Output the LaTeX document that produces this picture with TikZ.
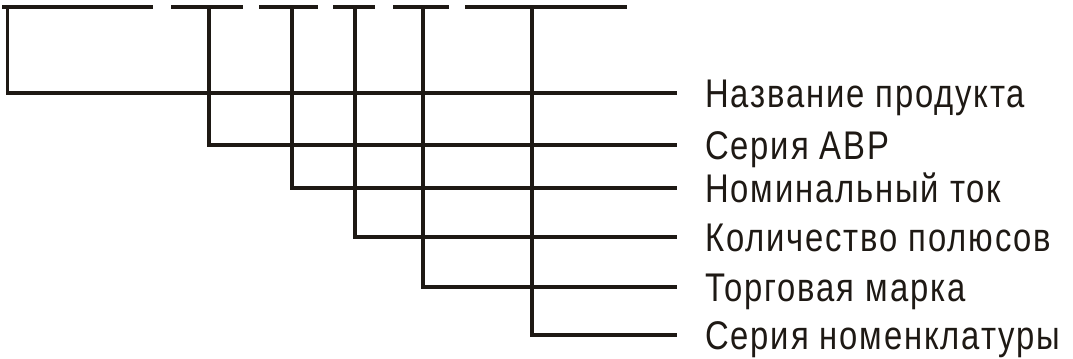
\documentclass[tikz,border=0pt]{standalone}
\usepackage{fontspec}
\setmainfont[LetterSpace=4.6,FakeStretch=0.82]{Liberation Sans}
\definecolor{ink}{RGB}{30,25,20}
\begin{document}
\begin{tikzpicture}[x=0.75pt,y=-0.75pt,
  wire/.style={draw=ink,line width=2.6pt},
  lbl/.style={anchor=west,inner xsep=21pt,inner ysep=0pt,text height=21.5pt,text depth=0pt,
    font=\fontsize{30}{34}\selectfont,text=ink}]
\useasboundingbox (0,0) rectangle (1073,358);
% top segments
\foreach \a/\b in {2/153,171/243,259/318,333/375,393/449,465/627}
  \draw[wire] (\a,7) -- (\b,7);
% taps on top line
\coordinate (t1) at (7.5,7);
\coordinate (t2) at (209,7);
\coordinate (t3) at (292,7);
\coordinate (t4) at (355,7);
\coordinate (t5) at (423,7);
\coordinate (t6) at (532,7);
% labels
\node[lbl] (l1) at (677,93) {Название продукта};
\node[lbl] (l2) at (677,145) {Серия АВР};
\node[lbl] (l3) at (677,188) {Номинальный ток};
\node[lbl] (l4) at (677,237) {Количество полюсов};
\node[lbl] (l5) at (677,287) {Торговая марка};
\node[lbl] (l6) at (677,335) {Серия номенклатуры};
\foreach \i in {1,...,6}
  \draw[wire,line join=miter] (t\i) |- (l\i.west);
\end{tikzpicture}
\end{document}
